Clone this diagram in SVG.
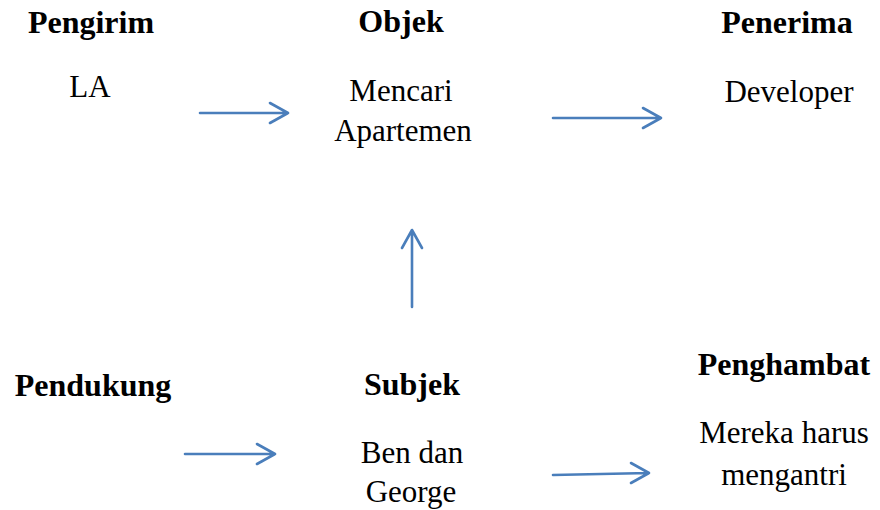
<svg xmlns="http://www.w3.org/2000/svg" width="880" height="510" viewBox="0 0 880 510">
  <style>
    text { font-family: "Liberation Serif", "Times New Roman", "DejaVu Serif", serif; fill: #000; text-anchor: middle; }
    .head { font-size: 32px; font-weight: bold; }
    .body { font-size: 31px; }
    .conn { fill: none; stroke: #4A7EBB; stroke-width: 2.6; stroke-linecap: round; stroke-linejoin: round; }
  </style>
  <rect width="880" height="510" fill="#fff"/>

  <g id="pengirim">
    <text class="head" x="91" y="33">Pengirim</text>
    <text class="body" x="90" y="97">LA</text>
  </g>
  <g id="objek">
    <text class="head" x="401" y="32">Objek</text>
    <text class="body" x="401" y="101">Mencari</text>
    <text class="body" x="403" y="141">Apartemen</text>
  </g>
  <g id="penerima">
    <text class="head" x="787" y="33">Penerima</text>
    <text class="body" x="789" y="102">Developer</text>
  </g>
  <g id="pendukung">
    <text class="head" x="93" y="396">Pendukung</text>
  </g>
  <g id="subjek">
    <text class="head" x="412" y="395">Subjek</text>
    <text class="body" x="412" y="463">Ben dan</text>
    <text class="body" x="411" y="502">George</text>
  </g>
  <g id="penghambat">
    <text class="head" x="784" y="375">Penghambat</text>
    <text class="body" x="784" y="443">Mereka harus</text>
    <text class="body" x="784" y="485">mengantri</text>
  </g>

  <g id="connectors" class="conn">
    <!-- LA -> Mencari Apartemen -->
    <path d="M200 113 H288 M270 103 L288 113 L270 123"/>
    <!-- Mencari Apartemen -> Developer -->
    <path d="M553 118 H661 M643 108 L661 118 L643 128"/>
    <!-- Subjek -> Objek -->
    <path d="M412 307 V230 M402 248 L412 230 L422 248"/>
    <!-- Pendukung -> Subjek -->
    <path d="M185 454 H275 M257 444 L275 454 L257 464"/>
    <!-- Subjek -> Penghambat -->
    <path d="M553 475 L649 473 M631 463 L649 473 L631 483"/>
  </g>
</svg>
